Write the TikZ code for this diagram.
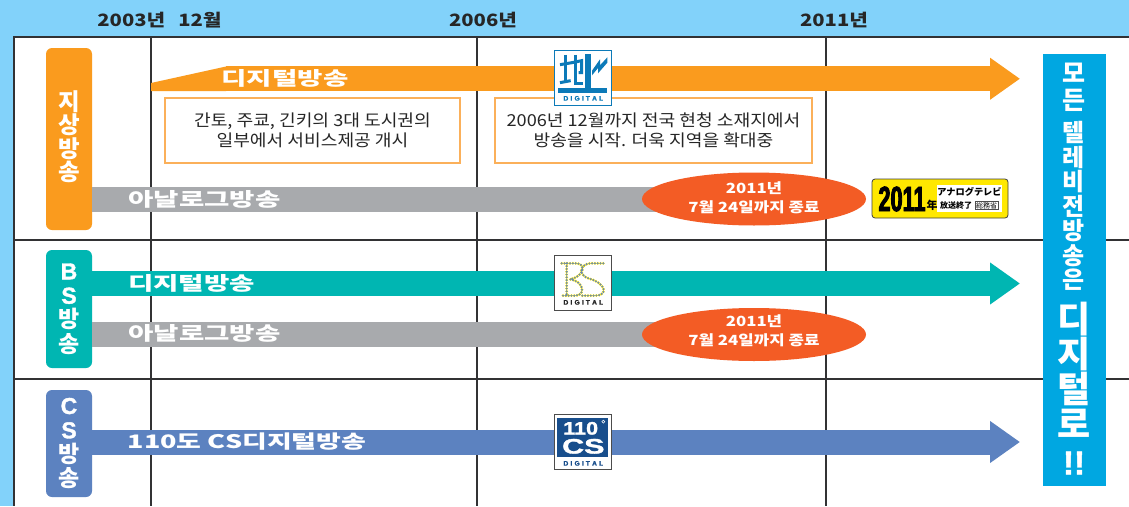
\documentclass[tikz,border=0pt]{standalone}
\usepackage{fontspec}
\setmainfont{Noto Sans CJK KR}
\newfontfamily\widefont[FakeStretch=1.45]{Noto Sans CJK KR}
\newfontfamily\yearfont[FakeStretch=1.19]{Noto Sans CJK KR}
\newfontfamily\infofont[FakeStretch=1.1]{Noto Sans CJK KR}
\newfontfamily\endfont[FakeStretch=1.2]{Noto Sans CJK KR}
\newfontfamily\jpfont{Noto Sans CJK JP}
\newfontfamily\latinfont[FakeBold=1.5]{Liberation Sans}
\newfontfamily\heavyfont[FakeStretch=0.62, FakeBold=2.5]{Liberation Sans}
\usetikzlibrary{arrows.meta, shapes.geometric}
\definecolor{skycolor}{RGB}{130, 210, 250}
\definecolor{gridcolor}{RGB}{50, 50, 52}
\definecolor{orangecolor}{RGB}{250, 155, 30}
\definecolor{boxcolor}{RGB}{251, 176, 90}
\definecolor{tealcolor}{RGB}{0, 182, 178}
\definecolor{bluecolor}{RGB}{92, 130, 192}
\definecolor{greycolor}{RGB}{168, 170, 173}
\definecolor{redcolor}{RGB}{243, 92, 37}
\definecolor{panelcolor}{RGB}{0, 167, 225}
\definecolor{logoblue}{RGB}{12, 122, 184}
\definecolor{logonavy}{RGB}{24, 78, 140}
\definecolor{beadcolor}{RGB}{100, 135, 185}
\definecolor{badgecolor}{RGB}{255, 232, 0}
\tikzstyle{grid} = [gridcolor, line width=1.1pt]
\tikzstyle{year} = [font=\yearfont\fontsize{17}{17}\selectfont\bfseries, text=black!85]
\tikzstyle{service} = [rectangle, rounded corners=6pt, inner sep=0pt, minimum width=46pt,
                       text=white, align=center, font=\fontsize{23}{24.3}\selectfont\bfseries]
\tikzstyle{bararrow} = [line width=25pt, -{Triangle[length=30pt,width=40pt]}]
\tikzstyle{bar} = [line width=25pt, greycolor]
\tikzstyle{barlabel} = [text=white, font=\widefont\fontsize{19}{19}\selectfont\bfseries]
\tikzstyle{info} = [rectangle, draw=boxcolor, line width=1.4pt, fill=white, align=center,
                    inner sep=0pt, text=black!85, font=\infofont\fontsize{16.5}{20}\selectfont]
\tikzstyle{ending} = [ellipse, fill=redcolor, inner sep=0pt,
                      minimum width=224pt, minimum height=53pt]
\tikzstyle{endtext} = [text=white, align=center, inner sep=0pt,
                       font=\endfont\fontsize{14}{18.5}\selectfont\bfseries]
\tikzstyle{tag} = [font=\latinfont\fontsize{6.6}{6.6}\selectfont\bfseries, inner sep=0pt]
\newcommand{\digitaltag}{D\hspace{2.2pt}I\hspace{2.2pt}G\hspace{2.2pt}I\hspace{2.2pt}T\hspace{2.2pt}A\hspace{2.2pt}L}
\begin{document}
\begin{tikzpicture}[x=1pt, y=-1pt]
        \useasboundingbox (0,0) rectangle (1129,506);

        %Background
        \fill [skycolor] (0,0) rectangle (1129,506);
        \fill [white] (14,37) rectangle (1129,506);

        %Grid
        \draw [grid] (1129,37) -- (14,37) -- (14,506);
        \draw [grid] (14,240) -- (1129,240);
        \draw [grid] (14,379) -- (1129,379);
        \draw [grid] (151,37) -- (151,506);
        \draw [grid] (477,37) -- (477,506);
        \draw [grid] (826,37) -- (826,506);

        %Years
        \node (Year2003) [year] at (159.5,20.5) {2003년\hspace{13pt}12월};
        \node (Year2006) [year] at (483,20.5) {2006년};
        \node (Year2011) [year] at (834,20.5) {2011년};

        %Service labels
        \node (Terrestrial) [service, fill=orangecolor, minimum height=182pt] at (69,139) {};
        \node (TerrestrialText) [text=white, align=center, inner sep=0pt, font=\fontsize{23.5}{23.5}\selectfont\bfseries] at (69,136.5) {지\\상\\방\\송};
        \node (BS) [service, fill=tealcolor, minimum height=118pt] at (69,309) {{\latinfont B}\\{\latinfont S}\\방\\송};
        \node (CS) [service, fill=bluecolor, minimum height=107pt] at (69,443.5) {{\latinfont C}\\{\latinfont S}\\방\\송};

        %Terrestrial digital
        \coordinate (DigitalStart) at (226,78.75);
        \coordinate (DigitalEnd) at (1020,78.75);
        \fill [orangecolor] (151,91) -- (151,83) -- (226,66.5) -- (226,91) -- cycle;
        \draw [bararrow, orangecolor] (DigitalStart) -- (DigitalEnd);
        \node (DigitalLabel) [barlabel] at (285,78) {디지털방송};
        \node (InfoKanto) [info, minimum width=295pt, minimum height=65pt] at (312.5,130.5) {간토, 주쿄, 긴키의 3대 도시권의\\일부에서 서비스제공 개시};
        \node (InfoNation) [info, minimum width=317pt, minimum height=65pt] at (653.5,130.5) {2006년 12월까지 전국 현청 소재지에서\\방송을 시작. 더욱 지역을 확대중};

        %Terrestrial analog
        \coordinate (AnalogEnd) at (754,199);
        \draw [bar] (Terrestrial.east |- AnalogEnd) -- (AnalogEnd);
        \node (EndAnalog) [ending] at (AnalogEnd) {};
        \node (EndAnalogText) [endtext] at (754,198) {2011년\\7월 24일까지 종료};
        \node (AnalogLabel) [barlabel] at (204.5,199) {아날로그방송};

        %Badge
        \node (Badge) [rectangle, rounded corners=3pt, draw=black!75, fill=badgecolor, line width=0.8pt, minimum width=136pt, minimum height=39pt, inner sep=0pt] at (940,198.5) {};
        \node (BadgeYear) [inner sep=0pt, font=\heavyfont\fontsize{35}{35}\selectfont\bfseries] at (902,199) {2011};
        \node (BadgeNen) [inner sep=0pt, font=\jpfont\fontsize{11}{11}\selectfont\bfseries] at (932,205) {年};
        \node (BadgeWhite) [rectangle, fill=white, minimum width=65pt, minimum height=27pt, inner sep=0pt] at (969.5,198.5) {};
        \node (BadgeTop) [inner sep=0pt, font=\jpfont\fontsize{9.2}{9.2}\selectfont\bfseries] at (969.5,191.5) {アナログテレビ};
        \node (BadgeEnd) [inner sep=0pt, font=\jpfont\fontsize{8}{8}\selectfont\bfseries] at (956,205.5) {放送終了};
        \node (BadgeOffice) [draw=black!70, line width=0.4pt, inner sep=0.7pt, font=\jpfont\fontsize{7}{7}\selectfont] at (986.5,205.5) {総務省};

        %BS digital
        \coordinate (BSDigitalEnd) at (1020,283.5);
        \draw [bararrow, tealcolor] (BS.east |- BSDigitalEnd) -- (BSDigitalEnd);
        \node (BSDigitalLabel) [barlabel] at (191.5,283) {디지털방송};

        %BS analog
        \coordinate (BSAnalogEnd) at (754,334.5);
        \draw [bar] (BS.east |- BSAnalogEnd) -- (BSAnalogEnd);
        \node (BSEnd) [ending] at (BSAnalogEnd) {};
        \node (BSEndText) [endtext] at (754,331) {2011년\\7월 24일까지 종료};
        \node (BSAnalogLabel) [barlabel] at (204.5,333.5) {아날로그방송};

        %CS digital
        \coordinate (CSDigitalEnd) at (1020,442);
        \draw [bararrow, bluecolor] (CS.east |- CSDigitalEnd) -- (CSDigitalEnd);
        \node (CSDigitalLabel) [barlabel, font=\widefont\fontsize{18.6}{19}\selectfont\bfseries] at (247,442) {110도 CS디지털방송};

        %Terrestrial logo
        \begin{scope}[shift={(540,40)}, x=0.3333pt, y=-0.3333pt]
            \node (LogoChi) [rectangle, draw=logoblue, line width=1.2pt, fill=white, minimum width=57pt, minimum height=55pt, inner sep=0pt] at (130,113) {};
            \fill [logoblue] (55,145) rectangle (202,160);
            \fill [logoblue] (134,42) rectangle (152,146);
            \draw [logoblue, line width=3pt] (60,74) -- (96,68);
            \draw [logoblue, line width=3pt] (60,128) -- (92,122);
            \draw [logoblue, line width=3pt] (76,45) -- (76,125);
            \draw [logoblue, line width=3pt] (96,68) -- (125,62) -- (125,98) -- (116,98);
            \draw [logoblue, line width=3pt] (106,45) -- (106,130) -- (128,130);
            \fill [logoblue] (156,92) -- (180,58) -- (180,76) -- (202,52) -- (202,68) -- (174,100) -- (174,84) -- (156,106) -- cycle;
            \node (TagChi) [tag, text=logoblue] at (130,175) {\digitaltag};
        \end{scope}

        %BS logo
        \begin{scope}[shift={(540,250)}, x=0.3333pt, y=-0.3333pt]
            \node (LogoBS) [rectangle, draw=black!70, line width=1pt, fill=white, minimum width=57pt, minimum height=55pt, inner sep=0pt] at (130,99) {};
            \foreach \beadcolor/\beadwidth in {badgecolor/3pt, beadcolor/2.2pt}
                \draw [\beadcolor, line width=\beadwidth, line cap=round, dash pattern=on 0pt off 2.8pt]
                    (65,40) -- (112,40) .. controls (140,44) and (130,80) .. (90,88) .. controls (130,92) and (140,137) .. (105,137) -- (65,137)
                    (190,40) -- (150,40) .. controls (118,44) and (115,75) .. (145,85) .. controls (200,100) and (205,137) .. (165,137) -- (125,137)
                    (80,40) -- (80,137);
            \node (TagBS) [tag, text=black!85] at (130,157) {\digitaltag};
        \end{scope}

        %CS logo
        \begin{scope}[shift={(540,405)}, x=0.3333pt, y=-0.3333pt]
            \node (LogoCS) [rectangle, draw=black!70, line width=1pt, fill=white, minimum width=57pt, minimum height=55pt, inner sep=0pt] at (130,112) {};
            \fill [logonavy] (52,38) rectangle (204,155);
            \node (Text110) [inner sep=0pt, text=white, font=\latinfont\fontsize{18}{18}\selectfont\bfseries] at (122,70) {\scalebox{1.2}[1]{110}};
            \node (TextDegree) [draw=white, circle, line width=0.5pt, minimum size=3pt, inner sep=0pt] at (190,50) {};
            \node (TextCS) [inner sep=0pt, text=white, font=\latinfont\fontsize{21}{21}\selectfont\bfseries] at (130,124) {\scalebox{1.45}[1]{CS}};
            \node (TagCS) [tag, text=logonavy] at (130,175) {\digitaltag};
        \end{scope}

        %Right panel
        \node (Panel) [rectangle, fill=panelcolor, minimum width=63pt, minimum height=432pt, inner sep=0pt] at (1074.5,270) {};
        \node (PanelAll) [text=white, align=center, inner sep=0pt, font=\fontsize{25}{27}\selectfont\bfseries] at (1074,87) {모\\든};
        \node (PanelTV) [text=white, align=center, inner sep=0pt, font=\fontsize{24}{24.5}\selectfont\bfseries] at (1074,206) {텔\\레\\비\\전\\방\\송\\은};
        \node (PanelDigital) [text=white, align=center, inner sep=0pt, font=\fontsize{36}{35}\selectfont\bfseries] at (1074,370) {디\\지\\털\\로};
        \node (PanelMark) [text=white, inner sep=0pt, font=\latinfont\fontsize{33}{33}\selectfont\bfseries] at (1074,463) {!!};

\end{tikzpicture}
\end{document}
